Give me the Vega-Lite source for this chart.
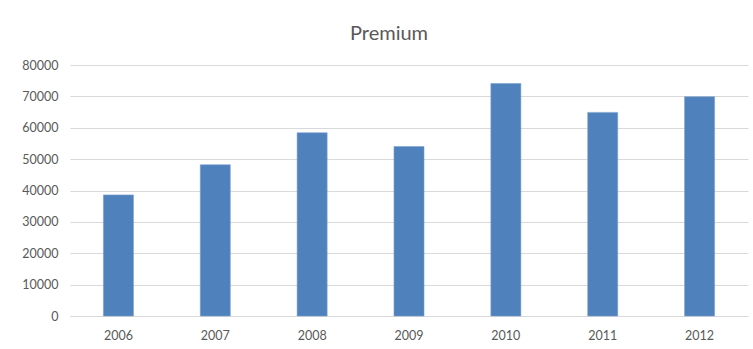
{
  "$schema": "https://vega.github.io/schema/vega-lite/v6.json",
  "autosize": {"type": "none"},
  "width": 678,
  "height": 251,
  "padding": {"left": 70, "top": 65, "right": 5, "bottom": 33},
  "background": "white",
  "title": {
    "text": "Premium",
    "font": "Lato",
    "fontSize": 20,
    "fontWeight": "normal",
    "color": "#595959",
    "anchor": "middle",
    "dx": -20,
    "offset": 15
  },
  "data": {
    "values": [
      {"year": "2006", "premium": 38600},
      {"year": "2007", "premium": 48200},
      {"year": "2008", "premium": 58400},
      {"year": "2009", "premium": 54000},
      {"year": "2010", "premium": 74100},
      {"year": "2011", "premium": 64900},
      {"year": "2012", "premium": 69900}
    ]
  },
  "mark": {"type": "bar", "color": "#4F81BD", "stroke": "#7A9FCF", "strokeWidth": 0.6},
  "encoding": {
    "x": {
      "field": "year",
      "type": "ordinal",
      "scale": {"paddingInner": 0.69, "paddingOuter": 0.345},
      "axis": {
        "title": null,
        "labelAngle": 0,
        "ticks": false,
        "labelPadding": 13,
        "domainColor": "#d9d9d9",
        "grid": false
      }
    },
    "y": {
      "field": "premium",
      "type": "quantitative",
      "scale": {"domain": [0, 80000], "nice": false},
      "axis": {
        "title": null,
        "values": [0, 10000, 20000, 30000, 40000, 50000, 60000, 70000, 80000],
        "format": "d",
        "ticks": false,
        "domain": false,
        "labelPadding": 12,
        "gridColor": "#d9d9d9",
        "gridWidth": 1
      }
    }
  },
  "config": {
    "view": {"stroke": null},
    "axis": {
      "labelFont": "Lato",
      "labelFontSize": 12.5,
      "labelColor": "#595959"
    }
  }
}
